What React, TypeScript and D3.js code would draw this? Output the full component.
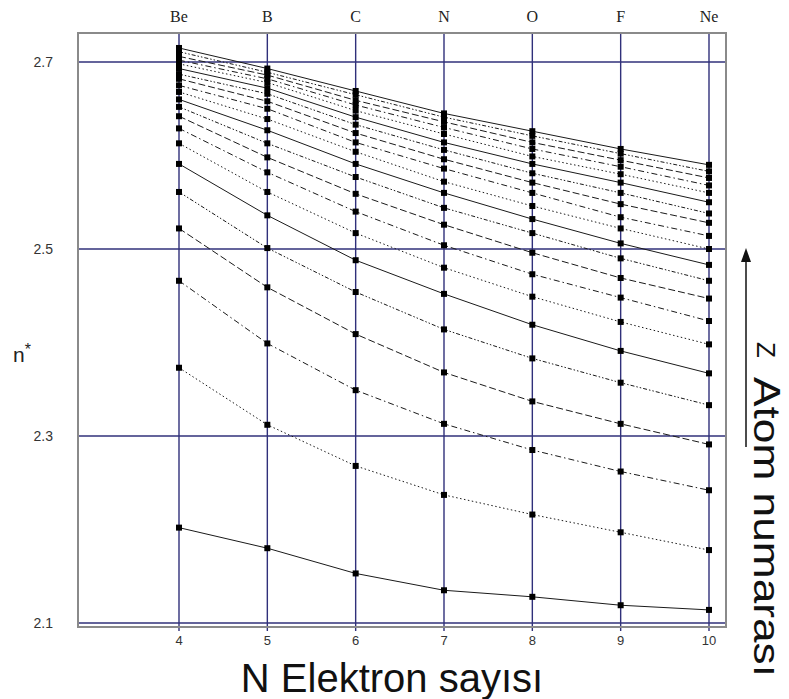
import { useEffect, useRef } from 'react';
import * as d3 from 'd3';

// electron count on the x axis, element symbol on top
const electrons = [4, 5, 6, 7, 8, 9, 10];
const elements = ['Be', 'B', 'C', 'N', 'O', 'F', 'Ne'];
const yTicks = [2.1, 2.3, 2.5, 2.7];

// n* per curve (one row per atomic number, lowest first), read at N = 4..10
const nStar: number[][] = [
    [2.202, 2.180, 2.153, 2.135, 2.128, 2.119, 2.114],
    [2.373, 2.312, 2.268, 2.237, 2.216, 2.197, 2.178],
    [2.466, 2.399, 2.349, 2.313, 2.285, 2.262, 2.242],
    [2.522, 2.459, 2.409, 2.368, 2.337, 2.313, 2.291],
    [2.561, 2.501, 2.454, 2.414, 2.383, 2.357, 2.333],
    [2.591, 2.536, 2.488, 2.452, 2.419, 2.391, 2.367],
    [2.613, 2.561, 2.517, 2.480, 2.449, 2.422, 2.398],
    [2.629, 2.582, 2.540, 2.504, 2.473, 2.448, 2.423],
    [2.642, 2.598, 2.559, 2.526, 2.496, 2.469, 2.447],
    [2.652, 2.613, 2.577, 2.544, 2.517, 2.490, 2.466],
    [2.660, 2.627, 2.591, 2.560, 2.532, 2.506, 2.483],
    [2.668, 2.639, 2.604, 2.572, 2.546, 2.522, 2.500],
    [2.675, 2.650, 2.614, 2.586, 2.560, 2.534, 2.514],
    [2.682, 2.658, 2.624, 2.596, 2.571, 2.548, 2.528],
    [2.687, 2.666, 2.633, 2.606, 2.581, 2.560, 2.538],
    [2.693, 2.672, 2.641, 2.614, 2.591, 2.571, 2.550],
    [2.698, 2.678, 2.648, 2.623, 2.599, 2.580, 2.560],
    [2.702, 2.682, 2.654, 2.630, 2.607, 2.588, 2.568],
    [2.706, 2.686, 2.659, 2.636, 2.614, 2.595, 2.576],
    [2.711, 2.689, 2.665, 2.641, 2.621, 2.602, 2.583],
    [2.715, 2.693, 2.669, 2.645, 2.626, 2.607, 2.590],
];

const dashes = [null, '1.5,2.5', '6,3,1.5,3', '7,3', '4,2,1.5,2,1.5,2'];

const GRID = '#30307a';
const FRAME = '#8a8a8a';
const INK = '#1a1a1a';
const SANS = '"Liberation Sans", Arial, sans-serif';

export default function App() {
    const svgRef = useRef<SVGSVGElement | null>(null);
    const width = 789;
    const height = 699;

    useEffect(() => {
        if (!svgRef.current) return;
        const svg = d3.select(svgRef.current);
        svg.selectAll('*').remove();

        const frame = { left: 78, right: 726, top: 33, bottom: 627 };
        const x = d3.scaleLinear().domain([4, 10]).range([179, 709]);
        const y = d3.scaleLinear().domain([2.1, 2.7]).range([623, 62]);

        svg.append('rect').attr('width', width).attr('height', height).attr('fill', '#fff');

        // grid
        const grid = svg.append('g');
        electrons.forEach(n => {
            grid.append('line')
                .attr('x1', x(n)).attr('x2', x(n))
                .attr('y1', frame.top).attr('y2', frame.bottom + 4)
                .attr('stroke', GRID).attr('stroke-width', 1.4);
        });
        yTicks.forEach(t => {
            grid.append('line')
                .attr('x1', frame.left).attr('x2', frame.right)
                .attr('y1', y(t)).attr('y2', y(t))
                .attr('stroke', GRID).attr('stroke-width', 1.4);
        });

        // frame
        svg.append('rect')
            .attr('x', frame.left).attr('y', frame.top)
            .attr('width', frame.right - frame.left).attr('height', frame.bottom - frame.top)
            .attr('fill', 'none').attr('stroke', FRAME).attr('stroke-width', 2);

        // curves
        const line = d3.line<number>()
            .x((_, i) => x(electrons[i]))
            .y(d => y(d));

        nStar.forEach((vals, k) => {
            const dash = dashes[k % dashes.length];
            const p = svg.append('path')
                .datum(vals)
                .attr('d', line)
                .attr('fill', 'none')
                .attr('stroke', INK)
                .attr('stroke-width', 1);
            if (dash) p.attr('stroke-dasharray', dash);
        });

        // markers
        const ms = 6;
        nStar.forEach(vals => {
            vals.forEach((v, i) => {
                svg.append('rect')
                    .attr('x', x(electrons[i]) - ms / 2).attr('y', y(v) - ms / 2)
                    .attr('width', ms).attr('height', ms)
                    .attr('fill', '#000');
            });
        });

        // top element labels
        elements.forEach((el, i) => {
            svg.append('text')
                .attr('x', x(electrons[i])).attr('y', 22)
                .attr('text-anchor', 'middle')
                .style('font-family', '"Liberation Serif", "DejaVu Serif", serif')
                .style('font-size', '16px')
                .style('fill', '#222')
                .text(el);
        });

        // bottom tick labels
        electrons.forEach(n => {
            svg.append('text')
                .attr('x', x(n)).attr('y', 645)
                .attr('text-anchor', 'middle')
                .style('font-family', SANS)
                .style('font-size', '13px')
                .style('fill', '#333')
                .text(n);
        });

        // left tick labels
        yTicks.forEach(t => {
            svg.append('text')
                .attr('x', 53).attr('y', y(t) + 5)
                .attr('text-anchor', 'end')
                .style('font-family', SANS)
                .style('font-size', '14px')
                .style('fill', '#333')
                .text(t.toFixed(1));
        });

        // n*
        const ny = svg.append('text')
            .attr('x', 13).attr('y', 362)
            .style('font-family', SANS)
            .style('font-size', '21px')
            .style('fill', '#222');
        ny.append('tspan').text('n');
        ny.append('tspan').attr('dy', -7).style('font-size', '16px').text('*');

        // x axis title
        svg.append('text')
            .attr('x', 392).attr('y', 692)
            .attr('text-anchor', 'middle')
            .style('font-family', SANS)
            .style('font-size', '40px')
            .style('fill', '#111')
            .text('N Elektron sayısı');

        // arrow for increasing Z
        svg.append('line')
            .attr('x1', 746).attr('x2', 746)
            .attr('y1', 447).attr('y2', 260)
            .attr('stroke', '#111').attr('stroke-width', 1.5);
        svg.append('path')
            .attr('d', 'M746,248 L741,262 L751,262 Z')
            .attr('fill', '#111');

        // right rotated title
        svg.append('text')
            .attr('transform', 'translate(757,342) rotate(90)')
            .style('font-family', SANS)
            .style('font-size', '26px')
            .style('fill', '#111')
            .text('Z');
        svg.append('text')
            .attr('transform', 'translate(754,377) rotate(90)')
            .attr('textLength', 300)
            .attr('lengthAdjust', 'spacingAndGlyphs')
            .style('font-family', SANS)
            .style('font-size', '36px')
            .style('fill', '#111')
            .text('Atom numarası');
    }, []);

    return (
        <svg ref={svgRef} width={width} height={height}
            style={{ position: 'absolute', left: 0, top: 0, background: '#fff' }} />
    );
}
